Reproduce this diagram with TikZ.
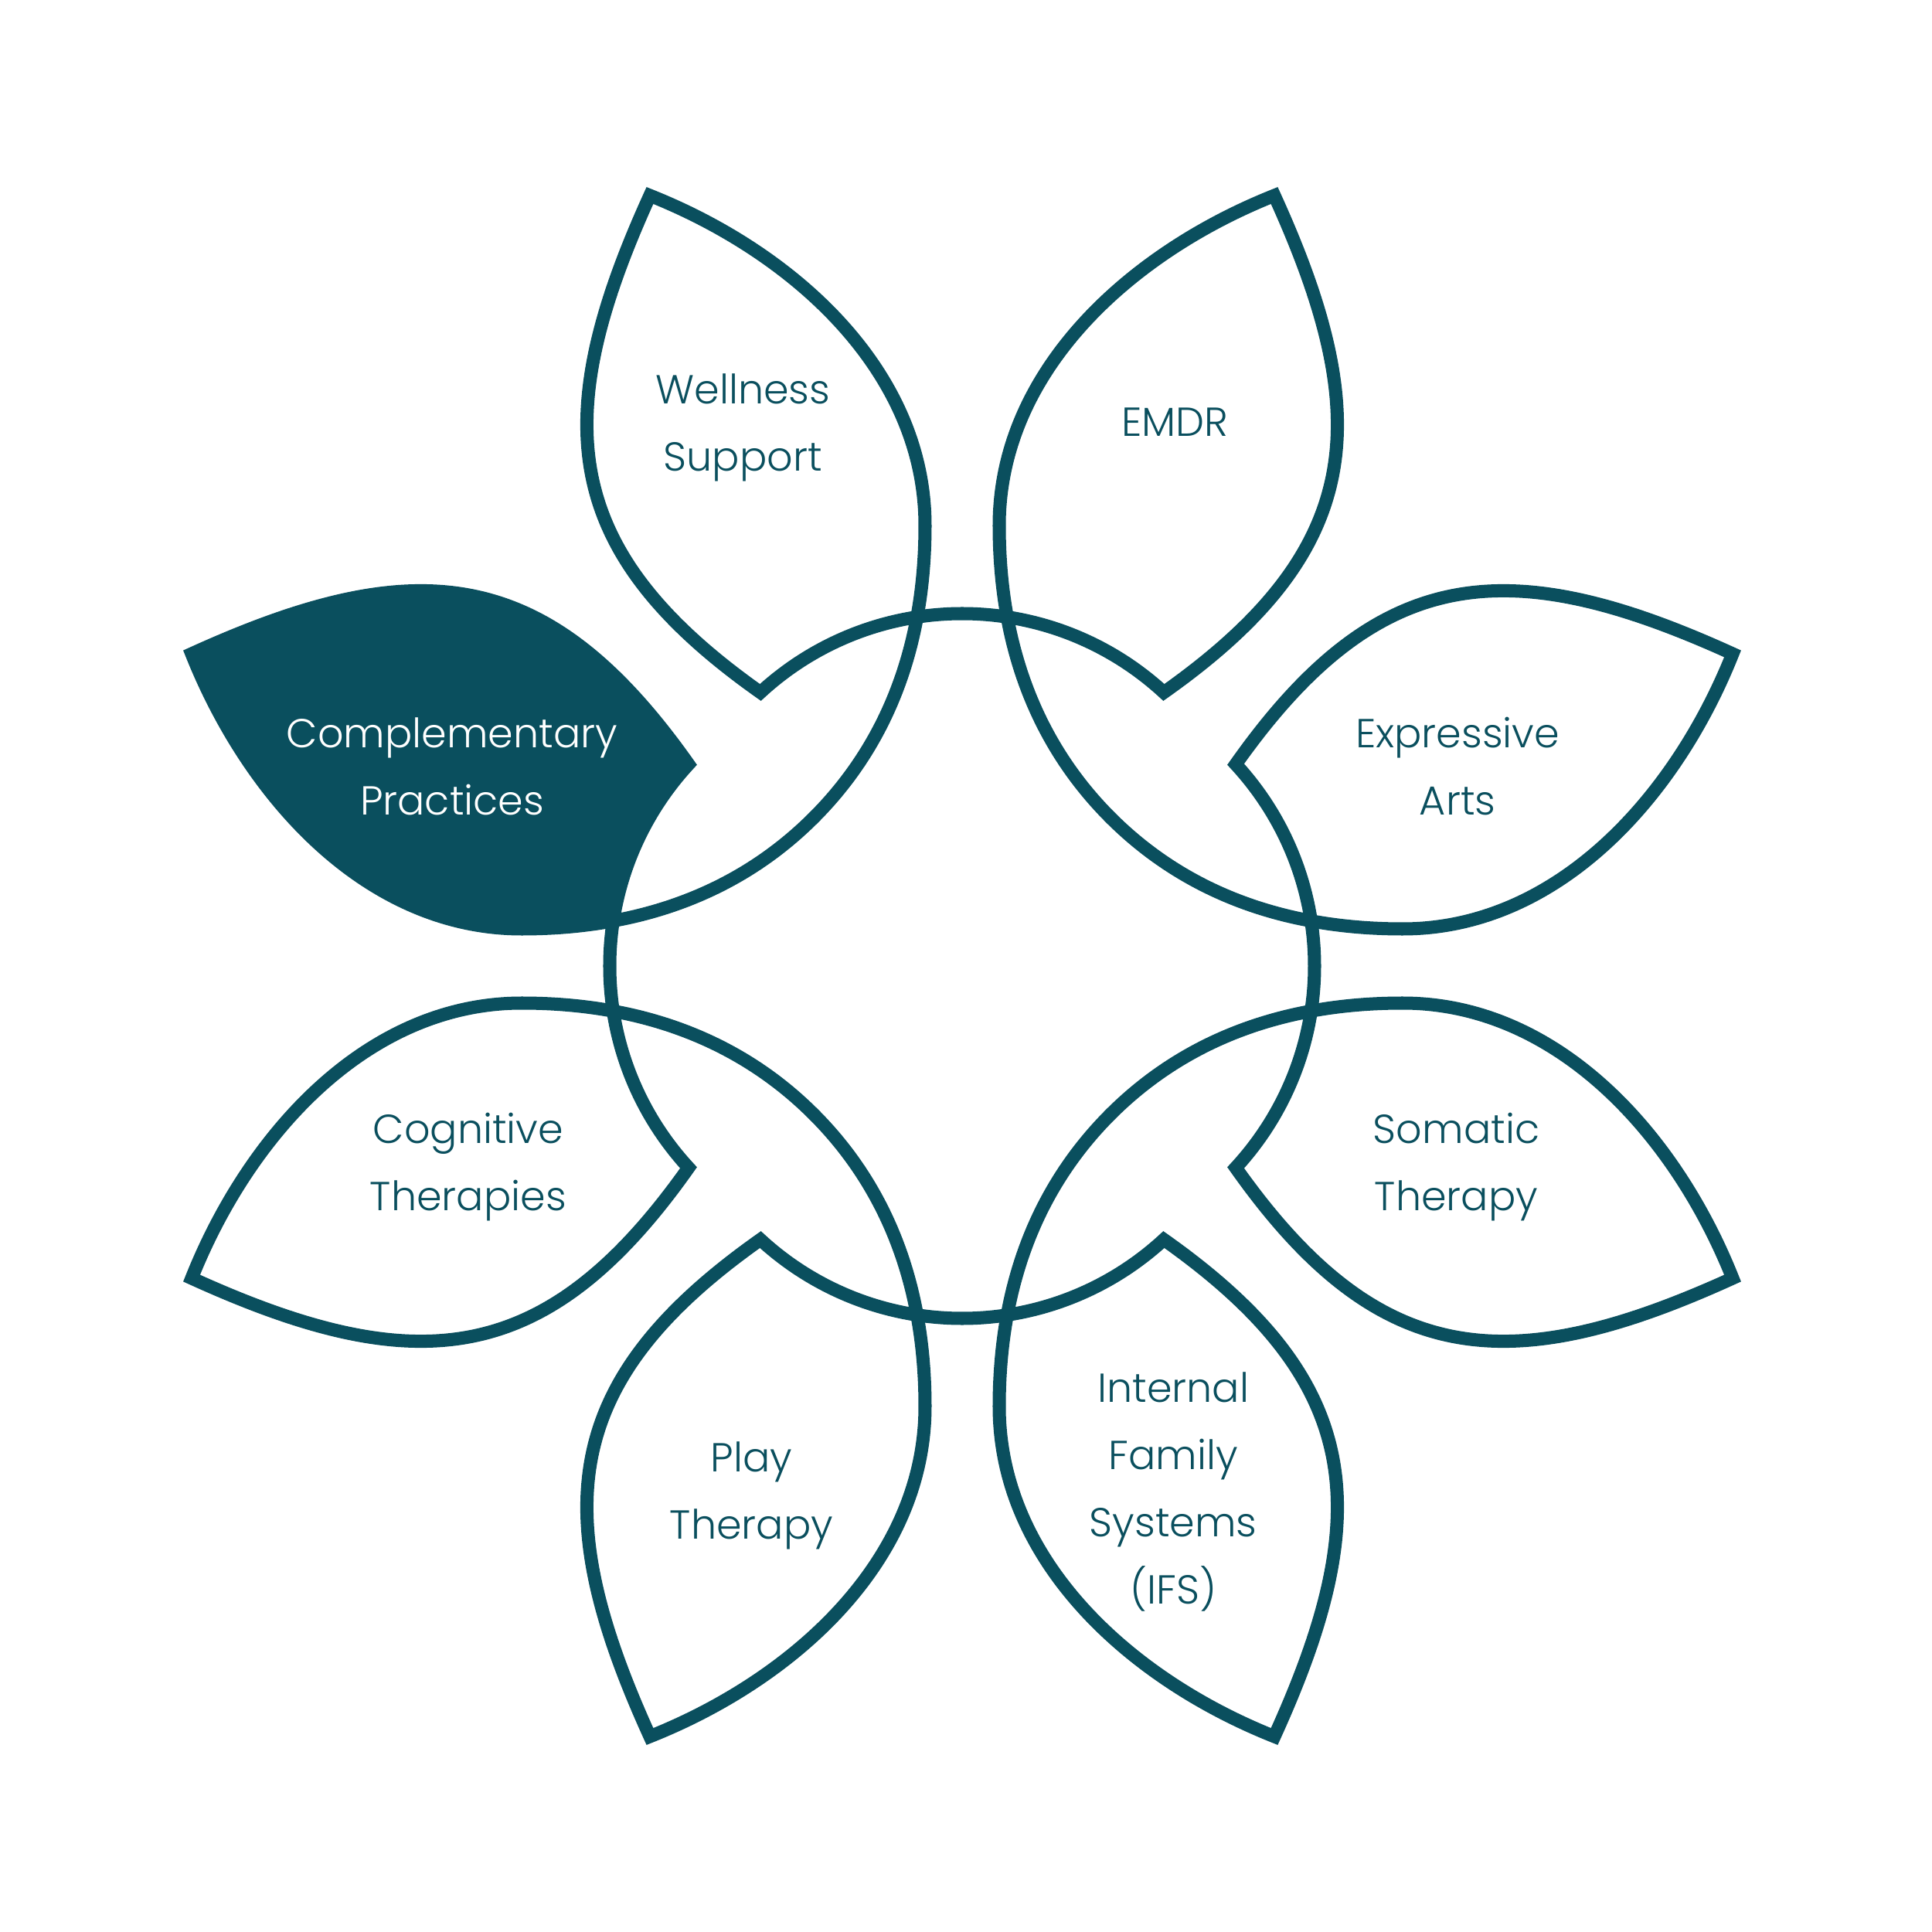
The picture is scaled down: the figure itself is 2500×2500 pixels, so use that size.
\documentclass[tikz,border=0pt]{standalone}
\usepackage{fontspec}
\newfontfamily\lblfont{Poppins Light}
\definecolor{flowerteal}{RGB}{10,79,94}
% one eighth of the outline, from the top apex to the left apex
\newcommand\flowerseg{%
 .. controls (-96.8,456) and (-189.9,419.6) .. (-261,354)
 .. controls (-521,537.6) and (-536,707) .. (-404,997)
 .. controls (-218,923) and (-48,770) .. (-48,570)
 .. controls (-48,420) and (-93,291) .. (-192,192)
 {[cm={0,-1,-1,0,(0,0)}]
 .. controls (-93,291) and (-48,420) .. (-48,570)
 .. controls (-48,770) and (-218,923) .. (-404,997)
 .. controls (-536,707) and (-521,537.6) .. (-261,354)
 .. controls (-189.9,419.6) and (-96.8,456) .. (0,456)}%
}
\begin{document}
\begin{tikzpicture}[x=0.01cm,y=0.01cm,
  petalline/.style={draw=flowerteal, line width=0.17cm, line join=miter, miter limit=10},
  lbl/.style={align=center, text=flowerteal, inner sep=0pt,
    font=\lblfont\fontsize{14.9pt}{24.75pt}\selectfont},
  lblw/.style={lbl, text=white}]
\useasboundingbox (-1245,-1250) rectangle (1255,1250);
\fill[white] (-1245,-1250) rectangle (1255,1250);
% filled petal (Complementary Practices)
\begin{scope}
  \clip (-997,404) .. controls (-923,218) and (-770,48) .. (-570,48)
        .. controls (-420,48) and (-291,93) .. (-192,192)
        -- (-192,1250) -- (-1245,1250) -- (-1245,404) -- cycle;
  \fill[flowerteal] (-997,404) .. controls (-707,536) and (-537.6,521) .. (-354,261)
        .. controls (-419.6,189.9) and (-456,96.8) .. (-456,0)
        -- (-1010,0) -- cycle;
\end{scope}
% outline
\draw[petalline] (0,456) \flowerseg {[rotate=90]\flowerseg} {[rotate=180]\flowerseg} {[rotate=270]\flowerseg} -- cycle;
% labels
\node[lbl]  (wellness) at (-283.6,701.4) {\strut Wellness\\\strut Support};
\node[lbl]  (emdr)     at (275.3,702.6)  {\strut EMDR};
\node[lbl]  (expr)     at (641.2,256.5)  {\strut Expressive\\\strut Arts};
\node[lblw] (compl)    at (-659.9,256.5) {\strut Complementary\\\strut Practices};
\node[lbl]  (cogn)     at (-639.1,-255.2) {\strut Cognitive\\\strut Therapies};
\node[lbl]  (soma)     at (639.6,-255.2) {\strut Somatic\\\strut Therapy};
\node[lbl]  (play)     at (-272.4,-681)  {\strut Play\\\strut Therapy};
\node[lbl]  (ifs)      at (273.3,-677.6) {\strut Internal\\\strut Family\\\strut Systems\\\strut (IFS)};
\end{tikzpicture}
\end{document}
